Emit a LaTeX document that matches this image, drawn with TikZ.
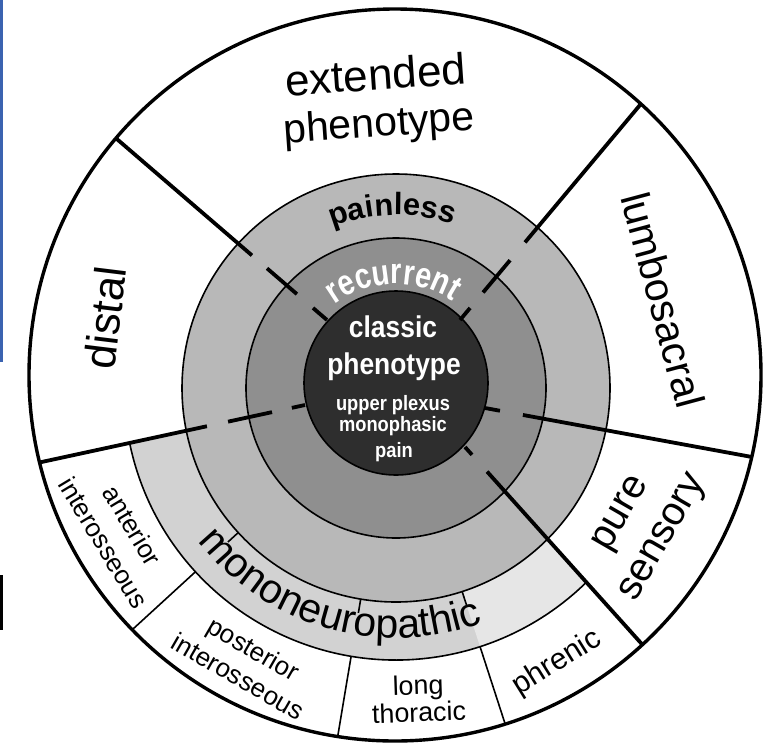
\documentclass[tikz,border=0pt]{standalone}
\usepackage{fontspec}
\setmainfont{Liberation Sans}
\newfontfamily\condfont{Liberation Sans}[FakeStretch=0.88]
\newfontfamily\narrowfont{Liberation Sans}[FakeStretch=0.8]
\usetikzlibrary{calc,decorations.text}
\definecolor{classicfill}{HTML}{2E2E2E}
\definecolor{recfill}{HTML}{8F8F8F}
\definecolor{painfill}{HTML}{B8B8B8}
\definecolor{monofill}{HTML}{D2D2D2}
\definecolor{phrfill}{HTML}{E6E6E6}
\definecolor{artblue}{HTML}{3B63B0}
\begin{document}
\begin{tikzpicture}[x=0.5pt,y=0.5pt,
  thickline/.style={line width=1.9pt, line cap=butt},
  thinline/.style={line width=0.8pt},
  ringedge/.style={line width=0.8pt},
  label/.style={inner sep=0pt, align=center},
  whitebig/.style={font=\condfont\bfseries\fontsize{15}{18}\selectfont, text=white, inner sep=0pt},
  whitesmall/.style={font=\condfont\bfseries\fontsize{10.4}{12}\selectfont, text=white, inner sep=0pt},
]
\useasboundingbox (0,0) rectangle (776,-745);
\fill[white] (0,0) rectangle (776,-745);
\coordinate (Co) at (395,-375);
\coordinate (Ci) at (396,-388);
\coordinate (Cc) at (396,-383);

% mononeuropathic band
\fill[monofill] (Ci) -- ($(Ci)+(191.7:272)$) arc[start angle=191.7, end angle=314.7, radius=272] -- cycle;
\fill[phrfill] (Ci) -- ($(Ci)+(288:272)$) arc[start angle=288, end angle=314.7, radius=272] -- cycle;
\draw[thinline] ($(Ci)+(191.7:272)$) arc[start angle=191.7, end angle=314.7, radius=272];

% rings
\filldraw[fill=painfill, ringedge] (Ci) circle[radius=214];
\filldraw[fill=recfill, ringedge] (Ci) circle[radius=150];
\filldraw[fill=classicfill, ringedge] (Cc) circle[radius=92];

% dividers
\coordinate (d1a) at (118,-140); \coordinate (d1b) at (327,-320);
\coordinate (d2a) at (640,-105); \coordinate (d2b) at (460,-320);
\coordinate (d3a) at (752,-457); \coordinate (d3b) at (485,-408);
\coordinate (d4a) at (640,-642); \coordinate (d4b) at (465,-447);
\coordinate (d5a) at (37,-463);  \coordinate (d5b) at (305,-405);
\begin{scope}
\clip (Co) circle[radius=366];
\foreach \a in {222.5,260.5,288} {
  \draw[thinline] ($(Ci)+(\a:272)$) -- ($(Ci)+(\a:400)$);
  \draw[thinline] ($(Ci)+(\a:214)$) -- ($(Ci)+(\a:228)$);
}
\draw[thickline] ($(d1a)!-0.05!(d1b)$) -- ($(d1a)!0.641!(d1b)$);
\draw[thickline] ($(d1a)!0.713!(d1b)$) -- ($(d1a)!0.856!(d1b)$);
\draw[thickline] ($(d1a)!0.933!(d1b)$) -- (d1b);
\draw[thickline] ($(d2a)!-0.05!(d2b)$) -- ($(d2a)!0.639!(d2b)$);
\draw[thickline] ($(d2a)!0.722!(d2b)$) -- ($(d2a)!0.872!(d2b)$);
\draw[thickline] ($(d2a)!0.944!(d2b)$) -- (d2b);
\draw[thickline] ($(d3a)!-0.05!(d3b)$) -- ($(d3a)!0.858!(d3b)$);
\draw[thickline] ($(d3a)!0.944!(d3b)$) -- (d3b);
\draw[thickline] ($(d4a)!-0.05!(d4b)$) -- ($(d4a)!0.874!(d4b)$);
\draw[thickline] ($(d4a)!0.96!(d4b)$) -- (d4b);
\draw[thickline] ($(d5a)!-0.05!(d5b)$) -- ($(d5a)!0.634!(d5b)$);
\draw[thickline] ($(d5a)!0.713!(d5b)$) -- ($(d5a)!0.877!(d5b)$);
\draw[thickline] ($(d5a)!0.951!(d5b)$) -- (d5b);
\end{scope}
\draw[line width=1.7pt] (Co) circle[radius=366];

% outer labels
\node[label, font=\fontsize{22}{23.3}\selectfont, rotate=4] (ext) at (377.5,-101.5)
  {extended\\{\fontsize{20.5}{23.3}\selectfont phenotype}};
\node[label, font=\fontsize{22}{26}\selectfont, rotate=83] (distal) at (105,-318) {distal};
\node[label, font=\fontsize{20.5}{24}\selectfont, rotate=-75] (lumbo) at (663,-300) {lumbosacral};
\node[label, font=\fontsize{20}{24}\selectfont, rotate=60] (puresens) at (643.5,-526.5) {pure\\sensory};
\node[label, font=\fontsize{13}{16.6}\selectfont, rotate=-59] (antint) at (118,-534) {anterior\\interosseous};
\node[label, font=\fontsize{13}{15.7}\selectfont, rotate=-30] (postint) at (246,-662.5) {posterior\\interosseous};
\node[label, font=\fontsize{13.4}{13.6}\selectfont, rotate=2] (longthor) at (418.5,-698.5) {long\\thoracic};
\node[label, font=\fontsize{15}{18}\selectfont, rotate=32] (phrenic) at (557,-663) {phrenic};

% centre labels
\node[whitebig] (cl1) at (393,-327) {classic};
\node[whitebig] (cl2) at (394,-367) {phenotype};
\node[whitesmall] (cl3) at (393,-405) {upper plexus};
\node[whitesmall] (cl4) at (393,-426) {monophasic};
\node[whitesmall] (cl5) at (394,-452) {pain};

% curved labels
\path[decorate, decoration={text along path, text align=center,
  text={|\bfseries\fontsize{15.4}{18}\selectfont|painless}}]
  ($(Ci)+(131.25:173)$) arc[start angle=131.25, end angle=51.25, radius=173];
\path[decorate, decoration={text along path, text align=center, text color=white,
  text={|\narrowfont\bfseries\fontsize{18}{21}\selectfont|recurrent}}]
  ($(Ci)+(151.5:104)$) arc[start angle=151.5, end angle=31.5, radius=104];
\path[decorate, decoration={text along path, text align=center,
  text={|\fontsize{20.5}{24}\selectfont|mononeuropathic}}]
  ($(Ci)+(194:250)$) arc[start angle=194, end angle=314, radius=250];

% scan artefacts at the left edge
\fill[artblue] (0,0) rectangle (3,-362);
\fill[black] (0,-575) rectangle (3,-630);
\end{tikzpicture}
\end{document}
